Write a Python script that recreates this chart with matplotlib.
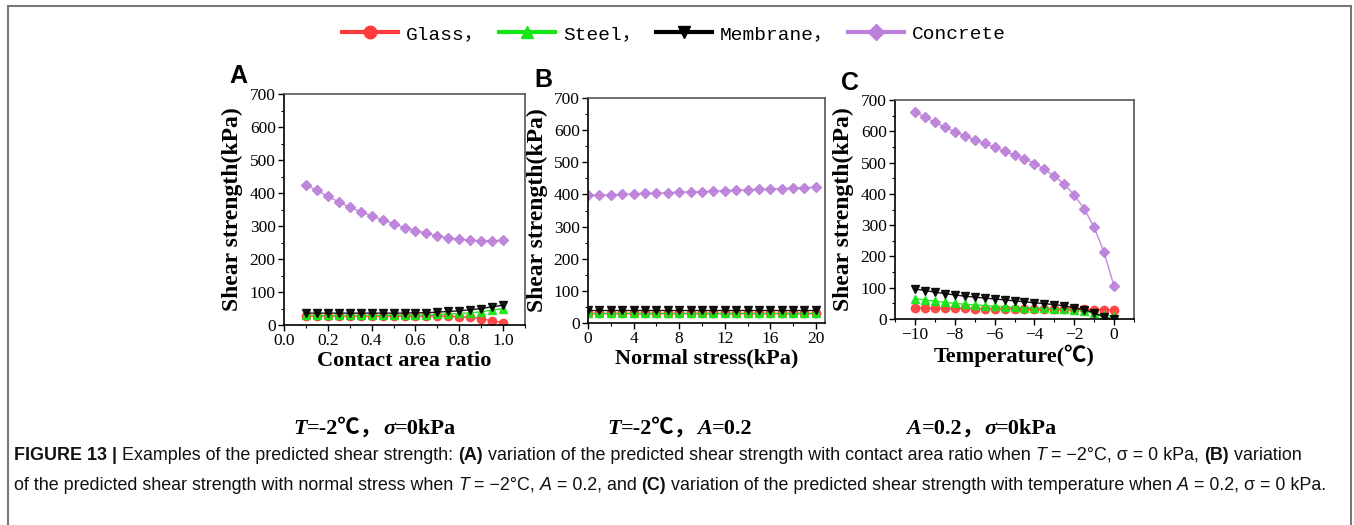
import matplotlib
matplotlib.use('Agg')
import matplotlib.pyplot as plt
from matplotlib.lines import Line2D
from matplotlib.patches import Rectangle
from matplotlib.ticker import MultipleLocator, FormatStrFormatter

# ---- data ----
area_ratio = [0.10, 0.15, 0.20, 0.25, 0.30, 0.35, 0.40, 0.45, 0.50, 0.55,
              0.60, 0.65, 0.70, 0.75, 0.80, 0.85, 0.90, 0.95, 1.00]
a_glass = [28, 28, 28, 28, 28, 28, 28, 28, 28, 28, 28, 27, 27, 26, 25, 24, 19, 13, 7]
a_steel = [29, 29, 29, 29, 29, 29, 29, 29, 30, 30, 30, 31, 32, 33, 35, 37, 40, 45, 50]
a_membrane = [36, 36, 36, 36, 36, 36, 36, 36, 36, 36, 37, 37, 39, 41, 43, 46, 50, 55, 60]
a_concrete = [425, 408, 390, 373, 357, 343, 330, 318, 307, 295, 286, 278, 270, 264,
              260, 257, 255, 255, 257]

normal_stress = [0, 1, 2, 3, 4, 5, 6, 7, 8, 9, 10, 11, 12, 13, 14, 15, 16, 17, 18, 19, 20]
b_glass = [30] * 21
b_steel = [32] * 21
b_membrane = [40] * 21
b_concrete = [397, 398, 399, 400, 402, 403, 404, 405, 407, 408, 409, 410, 412, 413,
              414, 416, 417, 418, 420, 421, 423]

temperature = [-10, -9.5, -9, -8.5, -8, -7.5, -7, -6.5, -6, -5.5, -5, -4.5, -4, -3.5,
               -3, -2.5, -2, -1.5, -1, -0.5, 0]
c_glass = [35, 35, 34, 34, 34, 34, 33, 33, 33, 33, 33, 32, 32, 32, 32, 31, 31, 31, 30, 30, 30]
c_steel = [65, 61, 57, 53, 50, 47, 45, 43, 41, 39, 38, 36, 35, 34, 32, 31, 29, 25, 18, 12, 8]
c_membrane = [96, 91, 86, 81, 77, 73, 70, 67, 64, 61, 58, 55, 52, 49, 46, 42, 36, 30, 20, 5, 0]
c_concrete = [663, 645, 629, 613, 599, 585, 572, 561, 549, 537, 524, 512, 497, 479,
              456, 431, 396, 352, 293, 213, 104]

series_names = ['Glass，', 'Steel，', 'Membrane，', 'Concrete']
series_colors = ['#ff3b3b', '#14e614', '#000000', '#bb7ed9']
series_markers = ['o', '^', 'v', 'D']

panel_letters = ['A', 'B', 'C']
x_labels = ['Contact area ratio', 'Normal stress(kPa)', 'Temperature(℃)']

serif = ['Liberation Serif', 'Noto Sans CJK SC']

W, H = 1354, 525
fig = plt.figure(figsize=(W / 100, H / 100), dpi=100)


def px_axes(x0, y0, x1, y1):
    # rectangle given in pixels from the top-left corner
    return fig.add_axes([x0 / W, 1 - y1 / H, (x1 - x0) / W, (y1 - y0) / H])


def text_width(s, **props):
    r = fig.canvas.get_renderer()
    t1 = fig.text(0, 0, '|' + s + '|', **props)
    t2 = fig.text(0, 0, '||', **props)
    w = t1.get_window_extent(r).width - t2.get_window_extent(r).width
    t1.remove()
    t2.remove()
    return w


def rich_text(x, y, pieces, ha='left', **props):
    """ pieces of differently styled text laid side by side (x, y in pixels) """
    widths = [text_width(s, **props, **st) for s, st in pieces]
    if ha == 'center':
        x -= sum(widths) / 2
    for (s, st), w in zip(pieces, widths):
        fig.text(x / W, 1 - y / H, s, ha='left', va='baseline', **props, **st)
        x += w


def style_axes(ax, xlabel, letter):
    ax.set_ylim(0, 700)
    ax.yaxis.set_major_locator(MultipleLocator(100))
    ax.yaxis.set_minor_locator(MultipleLocator(50))
    ax.tick_params(which='major', direction='out', length=4, width=1, pad=2,
                   labelsize=12.5)
    ax.tick_params(which='minor', direction='out', length=2.5, width=0.8)
    for lab in ax.get_xticklabels() + ax.get_yticklabels():
        lab.set_fontfamily(serif)
    for side in ['left', 'bottom']:
        ax.spines[side].set_color('black')
        ax.spines[side].set_linewidth(1.2)
    for side in ['top', 'right']:
        ax.spines[side].set_color('#555555')
        ax.spines[side].set_linewidth(1.2)
    ax.set_ylabel('Shear strength(kPa)', fontsize=17, fontweight='bold',
                  fontfamily=serif)
    ax.yaxis.set_label_coords(-0.17, 0.5)
    ax.set_xlabel(xlabel, fontsize=16, fontweight='bold', fontfamily=serif,
                  labelpad=1)
    ax.text(-0.225, 1.025, letter, transform=ax.transAxes, fontsize=18,
            fontweight='bold', fontfamily='Liberation Sans', va='bottom')


def draw_series(ax, x, ys):
    for y, c, m in zip(ys, series_colors, series_markers):
        ms = 5 if m == 'D' else 6
        ax.plot(x, y, color=c, marker=m, markersize=ms, lw=1, alpha=0.9)


# panel A
ax1 = px_axes(284, 94, 525, 325)
draw_series(ax1, area_ratio, [a_glass, a_steel, a_membrane, a_concrete])
ax1.set_xlim(0, 1.1)
ax1.xaxis.set_major_locator(MultipleLocator(0.2))
ax1.xaxis.set_minor_locator(MultipleLocator(0.1))
ax1.xaxis.set_major_formatter(FormatStrFormatter('%.1f'))
style_axes(ax1, x_labels[0], panel_letters[0])

# panel B
ax2 = px_axes(588, 98, 825, 323)
draw_series(ax2, normal_stress, [b_glass, b_steel, b_membrane, b_concrete])
ax2.set_xlim(0, 20.8)
ax2.xaxis.set_major_locator(MultipleLocator(4))
ax2.xaxis.set_minor_locator(MultipleLocator(2))
style_axes(ax2, x_labels[1], panel_letters[1])

# panel C
ax3 = px_axes(895, 100, 1134, 319)
draw_series(ax3, temperature, [c_glass, c_steel, c_membrane, c_concrete])
ax3.set_xlim(-11, 1)
ax3.xaxis.set_major_locator(MultipleLocator(2))
ax3.xaxis.set_minor_locator(MultipleLocator(1))
style_axes(ax3, x_labels[2], panel_letters[2])

# shared legend on top
handles = [Line2D([], [], color=c, marker=m, lw=3, markersize=9 if m != 'D' else 8)
           for c, m in zip(series_colors, series_markers)]
fig.legend(handles, series_names, loc='center', bbox_to_anchor=(674 / W, 1 - 34 / H),
           ncol=4, frameon=False, handlelength=2.9, handletextpad=0.4,
           columnspacing=0.75, prop={'family': ['Liberation Mono', 'Noto Sans CJK SC'],
                                     'size': 14})

# conditions under each panel
bi = {'fontstyle': 'italic', 'fontweight': 'bold'}
b = {'fontweight': 'bold'}
rich_text(375, 434, [('T', bi), ('=-2℃，', b), ('σ', bi), ('=0kPa', b)],
          ha='center', fontsize=16, fontfamily=serif)
rich_text(680, 434, [('T', bi), ('=-2℃，', b), ('A', bi), ('=0.2', b)],
          ha='center', fontsize=16, fontfamily=serif)
rich_text(982, 434, [('A', bi), ('=0.2，', b), ('σ', bi), ('=0kPa', b)],
          ha='center', fontsize=16, fontfamily=serif)

# caption
n = {}
it = {'fontstyle': 'italic'}
cap = {'fontsize': 12.9, 'fontfamily': ['Liberation Sans', 'DejaVu Sans'], 'color': '#111111'}
rich_text(14, 460, [('FIGURE 13 |', b), (' Examples of the predicted shear strength: ', n),
                    ('(A)', b),
                    (' variation of the predicted shear strength with contact area ratio when ', n),
                    ('T', it), (' = −2°C, σ = 0 kPa, ', n), ('(B)', b), (' variation', n)],
          **cap)
rich_text(14, 490, [('of the predicted shear strength with normal stress when ', n),
                    ('T', it), (' = −2°C, ', n), ('A', it), (' = 0.2, and ', n), ('(C)', b),
                    (' variation of the predicted shear strength with temperature when ', n),
                    ('A', it), (' = 0.2, σ = 0 kPa.', n)],
          **cap)

# outer frame
fig.add_artist(Rectangle((8 / W, -0.05), (1351 - 8) / W, 1.05 - 6 / H,
                         transform=fig.transFigure, fill=False, ec='#777777', lw=1.5))

fig.savefig('out.png', dpi=100)
